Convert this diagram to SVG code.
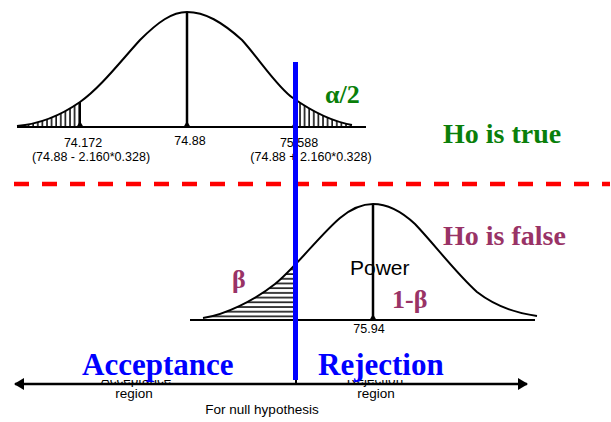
<svg xmlns="http://www.w3.org/2000/svg" width="611" height="422" viewBox="0 0 611 422">
<style>
.curve{fill:none;stroke:#000;stroke-width:2}
.axis{stroke:#000;stroke-width:2}
.stem{stroke:#000;stroke-width:2.5}
.num{font-family:"Liberation Sans",Arial,sans-serif;font-size:12.5px;fill:#000;text-anchor:middle}
.small{font-family:"Liberation Sans",Arial,sans-serif;font-size:13.5px;fill:#000;text-anchor:middle}
.big{font-family:"Liberation Serif","Times New Roman",serif;font-weight:bold;font-size:31px;fill:#0000ff}
.green{font-family:"Liberation Serif","Times New Roman",serif;font-weight:bold;fill:#0a7f0a}
.maroon{font-family:"Liberation Serif","Times New Roman",serif;font-weight:bold;fill:#993366}
.tri{fill:#000}
</style>
<defs>
<pattern id="vhatch" patternUnits="userSpaceOnUse" x="0" y="0" width="4.6" height="10">
<line x1="1" y1="0" x2="1" y2="10" stroke="#000" stroke-width="1.5"/>
</pattern>
<pattern id="hhatch" patternUnits="userSpaceOnUse" x="0" y="0.5" width="10" height="4.7">
<line x1="0" y1="1" x2="10" y2="1" stroke="#000" stroke-width="1.5"/>
</pattern>
<clipPath id="topClip">
<path d="M17,126 C40,124 60,116 80,102 C100,88 120,62 140,40 C158,22 172,12 187,12 C205,12 222,22 242,40 C260,60 278,88 293,98 C310,110 330,121 352,125 L352,127 L17,127 Z"/>
</clipPath>
<clipPath id="lowClip">
<path d="M203,318 C225,315 255,300 275,284 C295,268 320,235 340,218 C352,208 362,204 373,204 C385,204 400,210 415,224 C435,245 455,272 477,292 C495,306 515,313 537,316 L537,320 L203,320 Z"/>
</clipPath>
<marker id="ahead" viewBox="0 0 10 12" refX="9" refY="6" markerWidth="10" markerHeight="12" markerUnits="userSpaceOnUse" orient="auto-start-reverse">
<path d="M0,0 L10,6 L0,12 Z" fill="#000"/>
</marker>
</defs>

<g id="null-distribution">
<g clip-path="url(#topClip)">
<rect x="17" y="90" width="64" height="37" fill="url(#vhatch)"/>
<rect x="296" y="90" width="60" height="37" fill="url(#vhatch)"/>
</g>
<path class="curve" d="M17,126 C40,124 60,116 80,102 C100,88 120,62 140,40 C158,22 172,12 187,12 C205,12 222,22 242,40 C260,60 278,88 293,98 C310,110 330,121 352,125"/>
<line class="axis" x1="17" y1="127" x2="366" y2="127"/>
<line class="stem" x1="187" y1="12" x2="187" y2="127"/>
<line class="axis" x1="80" y1="102" x2="80" y2="127"/>
<polygon class="tri" points="76,128 84,128 80,121"/>
<polygon class="tri" points="183,128 191,128 187,121"/>
<polygon class="tri" points="291,128 299,128 295,121"/>
<text class="num" x="83" y="147">74.172</text>
<text class="num" x="91" y="161">(74.88 - 2.160*0.328)</text>
<text class="num" x="190" y="145">74.88</text>
<text class="num" x="299" y="147">75.588</text>
<text class="num" x="311" y="161">(74.88 + 2.160*0.328)</text>
</g>

<g id="alt-distribution">
<g clip-path="url(#lowClip)">
<rect x="190" y="250" width="105" height="70" fill="url(#hhatch)"/>
</g>
<path class="curve" d="M203,318 C225,315 255,300 275,284 C295,268 320,235 340,218 C352,208 362,204 373,204 C385,204 400,210 415,224 C435,245 455,272 477,292 C495,306 515,313 537,316"/>
<line class="axis" x1="190" y1="320" x2="535" y2="320"/>
<line class="stem" x1="373" y1="204" x2="373" y2="320"/>
<polygon class="tri" points="369,321 377,321 373,314"/>
<text class="num" x="369" y="333">75.94</text>
</g>

<g id="divider">
<line x1="14" y1="184" x2="610" y2="184" stroke="#ff0000" stroke-width="4.5" stroke-dasharray="15 13"/>
</g>

<g id="axis-labels">
<text class="small" x="136" y="384">Acceptance</text>
<text class="small" x="375" y="384">Rejection</text>
<rect x="80" y="346" width="160" height="34" fill="#fff"/>
<rect x="314" y="346" width="136" height="34" fill="#fff"/>
<text class="big" x="82" y="375">Acceptance</text>
<text class="big" x="318" y="375">Rejection</text>
<text class="small" x="134" y="398">region</text>
<text class="small" x="376" y="398">region</text>
<text class="small" x="262" y="414">For null hypothesis</text>
</g>

<g id="connectors">
<line x1="15" y1="384" x2="527" y2="384" stroke="#000" stroke-width="2.5" marker-start="url(#ahead)" marker-end="url(#ahead)"/>
<line x1="296" y1="378" x2="296" y2="384" stroke="#000" stroke-width="2"/>
</g>

<g id="critical-line">
<line x1="295.5" y1="62" x2="295.5" y2="380" stroke="#0000ff" stroke-width="5"/>
</g>

<g id="labels">
<text class="green" x="325" y="103" font-size="26">α/2</text>
<text class="green" x="443" y="143" font-size="28">Ho is true</text>
<text class="maroon" x="443" y="245" font-size="28">Ho is false</text>
<text class="maroon" x="232" y="288" font-size="26">β</text>
<text class="maroon" x="392" y="308" font-size="26">1-β</text>
<text x="350" y="275" font-family="'Liberation Sans',Arial,sans-serif" font-size="21" fill="#000">Power</text>
</g>
</svg>
